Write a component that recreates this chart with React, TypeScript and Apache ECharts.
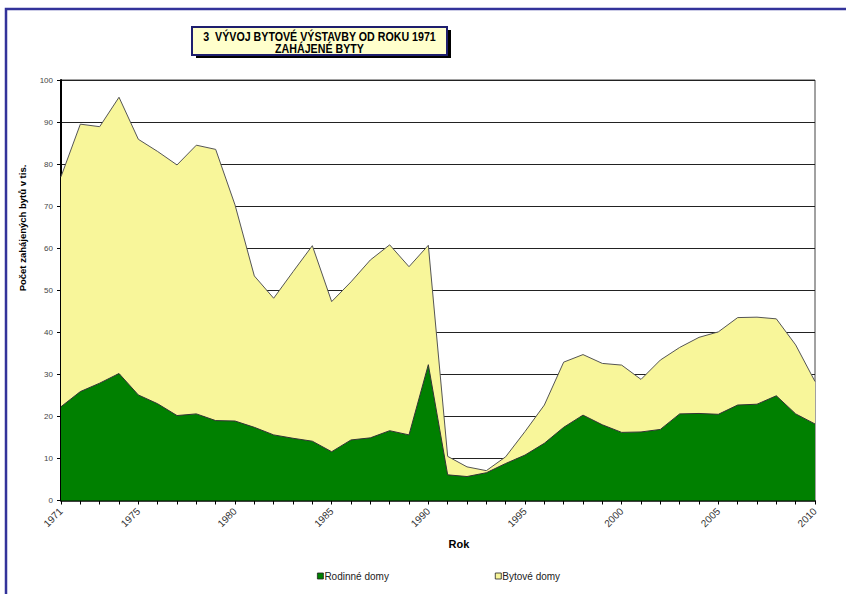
import React, { useEffect, useRef } from "react";
import * as echarts from "echarts";

const years: string[] = [];
for (let y = 1971; y <= 2010; y++) years.push(String(y));

// Rodinné domy (thousands)
const rodinne = [
  22.3, 25.9, 27.9, 30.2, 25.1, 23.0, 20.2, 20.6, 19.0, 18.9,
  17.4, 15.6, 14.8, 14.1, 11.6, 14.4, 14.9, 16.6, 15.6, 32.3,
  6.1, 5.7, 6.6, 8.8, 10.8, 13.6, 17.4, 20.3, 18.0, 16.2,
  16.3, 16.9, 20.6, 20.7, 20.5, 22.7, 22.9, 24.9, 20.6, 18.2,
];

// Bytové domy (thousands)
const bytove = [
  54.7, 63.6, 61.0, 65.7, 60.8, 60.0, 59.6, 63.9, 64.5, 51.4,
  36.0, 32.5, 39.6, 46.5, 35.7, 37.6, 42.3, 44.2, 40.0, 28.4,
  4.4, 2.3, 0.5, 1.6, 5.6, 9.1, 15.5, 14.4, 14.6, 16.0,
  12.5, 16.5, 15.8, 18.1, 19.6, 20.8, 20.7, 18.3, 16.4, 10.1,
];

const titleLines = ["3  VÝVOJ BYTOVÉ VÝSTAVBY OD ROKU 1971", "ZAHÁJENÉ BYTY"];
const yAxisName = "Počet zahájených bytů v tis.";
const xAxisName = "Rok";
const seriesNames = ["Rodinné domy", "Bytové domy"];

export default function App() {
  const ref = useRef<HTMLDivElement>(null);
  useEffect(() => {
    if (!ref.current) return;
    const chart = echarts.init(ref.current, undefined, { renderer: "svg" });
    const sans = "'Liberation Sans', Arial, sans-serif";
    chart.setOption({
      animation: false,
      backgroundColor: "#ffffff",
      textStyle: { fontFamily: sans },
      grid: {
        left: 61,
        right: 31,
        top: 80,
        bottom: 93.5,
        show: true,
        borderColor: "#444",
        borderWidth: 1,
        backgroundColor: "transparent",
      },
      legend: {
        data: [
          { name: seriesNames[0], itemStyle: { color: "#008000", borderColor: "#222", borderWidth: 0.8 } },
          { name: seriesNames[1], itemStyle: { color: "#F8F69A", borderColor: "#222", borderWidth: 0.8 } },
        ],
        left: 312,
        top: 566,
        icon: "rect",
        itemWidth: 6,
        itemHeight: 6,
        itemGap: 106,
        textStyle: { fontSize: 10, color: "#222", padding: [0, 0, 0, -4] },
      },
      xAxis: {
        type: "category",
        data: years,
        boundaryGap: false,
        axisLine: { lineStyle: { color: "#000", width: 1.5 } },
        axisTick: { show: true, length: 4, alignWithLabel: true, interval: 0, lineStyle: { color: "#000" } },
        axisLabel: {
          rotate: 45,
          fontSize: 10,
          color: "#333",
          margin: 9,
          interval: (idx: number, val: string) => {
            const y = Number(val);
            return y === 1971 || y % 5 === 0;
          },
        },
        splitLine: { show: false },
      },
      yAxis: {
        type: "value",
        min: 0,
        max: 100,
        interval: 10,
        axisLine: { show: true, lineStyle: { color: "#000", width: 2 } },
        axisTick: { show: true, length: 4, lineStyle: { color: "#000" } },
        axisLabel: { fontSize: 8, color: "#444", margin: 8 },
        splitLine: { show: true, lineStyle: { color: "#222", width: 1 } },
      },
      series: [
        {
          name: seriesNames[0],
          type: "line",
          stack: "total",
          data: rodinne,
          symbol: "none",
          lineStyle: { color: "#333", width: 1 },
          itemStyle: { color: "#008000" },
          areaStyle: { color: "#008000", opacity: 1 },
          z: 3,
        },
        {
          name: seriesNames[1],
          type: "line",
          stack: "total",
          data: bytove,
          symbol: "none",
          lineStyle: { color: "#555", width: 1 },
          itemStyle: { color: "#F8F69A" },
          areaStyle: { color: "#F8F69A", opacity: 1 },
          z: 2,
        },
      ],
      graphic: [
        {
          type: "polyline",
          shape: { points: [[6, 600], [6, 9], [850, 9]] },
          style: { stroke: "#33339A", lineWidth: 2.5, fill: "none" },
          z: 100,
        },
        {
          type: "rect",
          shape: { x: 196, y: 30, width: 255, height: 28 },
          style: { fill: "#000" },
          z: 100,
        },
        {
          type: "rect",
          shape: { x: 192, y: 27, width: 255, height: 28 },
          style: { fill: "#FFFFCC", stroke: "#1E1E6E", lineWidth: 2 },
          z: 101,
        },
        {
          type: "text",
          x: 319.5,
          y: 36.5,
          scaleX: 0.97,
          scaleY: 1.1,
          style: {
            text: titleLines[0],
            fontSize: 11,
            fontWeight: "bold",
            fontFamily: sans,
            fill: "#000",
            align: "center",
            verticalAlign: "middle",
          },
          z: 102,
        },
        {
          type: "text",
          x: 319.5,
          y: 48.5,
          scaleX: 0.97,
          scaleY: 1.1,
          style: {
            text: titleLines[1],
            fontSize: 11,
            fontWeight: "bold",
            fontFamily: sans,
            fill: "#000",
            align: "center",
            verticalAlign: "middle",
          },
          z: 102,
        },
        {
          type: "text",
          x: 22,
          y: 228,
          rotation: Math.PI / 2,
          style: {
            text: yAxisName,
            fontSize: 9.5,
            fontWeight: "bold",
            fontFamily: sans,
            fill: "#000",
            align: "center",
            verticalAlign: "middle",
          },
        },
        {
          type: "text",
          x: 459,
          y: 544,
          style: {
            text: xAxisName,
            fontSize: 11,
            fontWeight: "bold",
            fontFamily: sans,
            fill: "#000",
            align: "center",
            verticalAlign: "middle",
          },
        },
      ],
    });
    return () => chart.dispose();
  }, []);
  return (
    <div
      ref={ref}
      style={{ position: "absolute", left: 0, top: 0, width: 846, height: 594 }}
    />
  );
}
